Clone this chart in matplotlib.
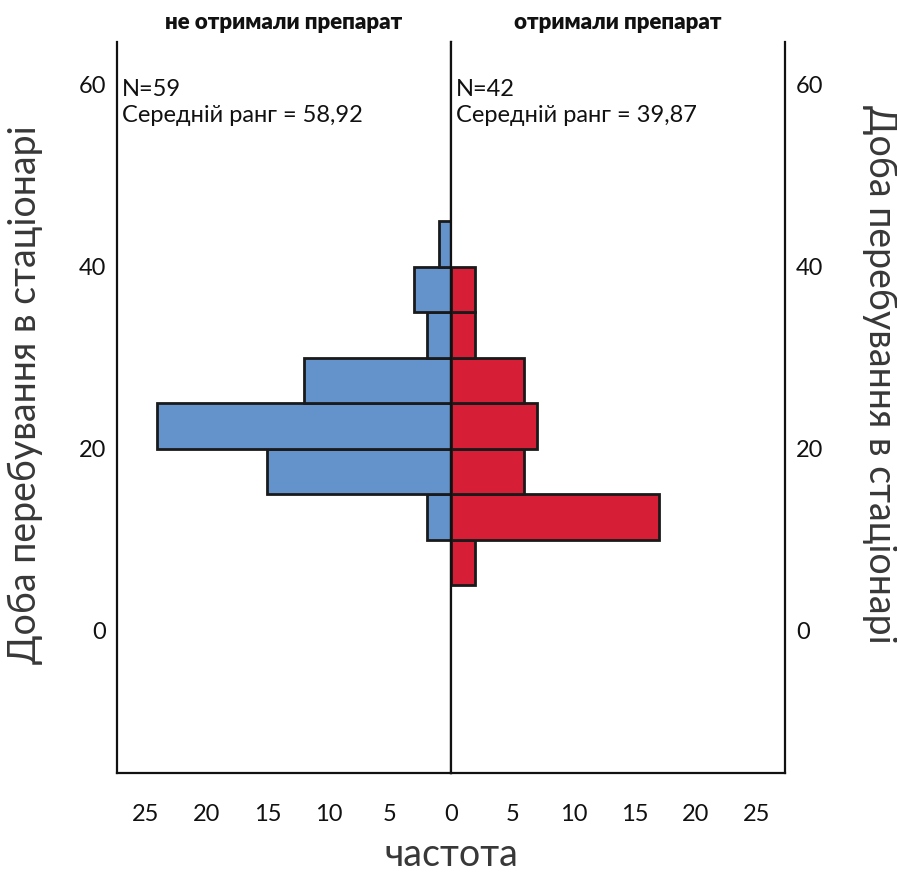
import numpy as np
import matplotlib.pyplot as plt

# bin edges (days in hospital) and counts per group
bin_lo = [5, 10, 15, 20, 25, 30, 35, 40]
bin_w = 5
no_drug = [0, 2, 15, 24, 12, 2, 3, 1]     # не отримали препарат
drug = [2, 17, 6, 7, 6, 2, 2, 0]          # отримали препарат

titles = ["не отримали препарат", "отримали препарат"]
stats = ["N=59\nСередній ранг = 58,92", "N=42\nСередній ранг = 39,87"]
ylab = "Доба перебування в стаціонарі"
xlab = "частота"

blue = "#6393CA"
red = "#D61F37"
font = "Lato"

plt.rcParams['font.family'] = [font, 'DejaVu Sans']

fig = plt.figure(figsize=(8.97, 8.72), dpi=100)
W, H = 897, 872
left, mid, right = 117, 451, 785
top, bot = 42, 773
axL = fig.add_axes([left / W, 1 - bot / H, (mid - left) / W, (bot - top) / H])
axR = fig.add_axes([mid / W, 1 - bot / H, (right - mid) / W, (bot - top) / H])

xmax = 27.3
ylim = (-15.6, 64.7)

for ax, counts, col in [(axL, no_drug, blue), (axR, drug, red)]:
    lo = [b for b, c in zip(bin_lo, counts) if c > 0]
    cc = [c for c in counts if c > 0]
    ax.barh(lo, cc, height=bin_w, align='edge', color=col,
            edgecolor='#1a1a1a', linewidth=2, zorder=2)
    ax.set_ylim(*ylim)
    ax.set_yticks([0, 20, 40, 60])
    ax.spines['top'].set_visible(False)
    for s in ['left', 'right', 'bottom']:
        ax.spines[s].set_linewidth(1.6)
        ax.spines[s].set_color('#111111')
    ax.tick_params(length=0, labelsize=17, colors='#111111')
    ax.tick_params(axis='x', pad=22)

axL.set_xlim(xmax, 0)
axL.set_xticks([25, 20, 15, 10, 5])
axL.yaxis.set_ticks_position('left')
axL.tick_params(axis='y', pad=8)
axR.set_xlim(0, xmax)
axR.set_xticks([0, 5, 10, 15, 20, 25])
axR.yaxis.set_ticks_position('right')
axR.tick_params(axis='y', labelleft=False, labelright=True, pad=8)

for ax, t, s in [(axL, titles[0], stats[0]), (axR, titles[1], stats[1])]:
    ax.text(0.5, 1.012, t, transform=ax.transAxes, ha='center', va='bottom',
            fontsize=16, fontweight='heavy', color='#111111')
    ax.text(0.015, 0.95, s, transform=ax.transAxes, ha='left', va='top',
            fontsize=17, color='#111111', linespacing=1.3)

fig.text(25 / W, 1 - 395 / H, ylab, rotation=90, ha='center', va='center',
         fontsize=27, color='#383838')
fig.text(880 / W, 1 - 374 / H, ylab, rotation=270, ha='center', va='center',
         fontsize=27, color='#383838')
fig.text(mid / W, 1 - 855 / H, xlab, ha='center', va='center',
         fontsize=27, color='#383838')

fig.savefig("out.png", dpi=100)
